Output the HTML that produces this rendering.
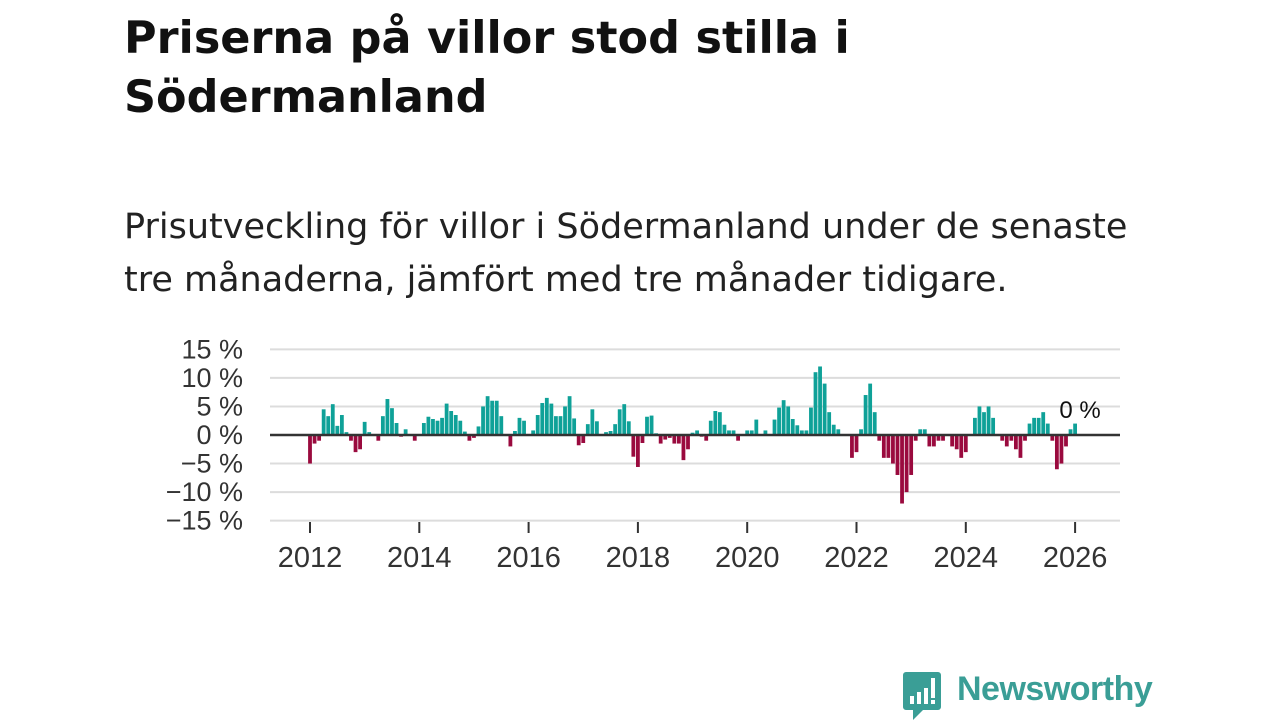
<!DOCTYPE html>
<html><head><meta charset="utf-8"><style>
body{margin:0;background:#fff;width:1280px;height:720px;overflow:hidden;font-family:"Liberation Sans",sans-serif;color:#1a1a1a}
h1{position:absolute;left:124px;top:9px;margin:0;font-family:"DejaVu Sans",sans-serif;font-size:44.5px;line-height:59px;font-weight:bold;color:#111;white-space:nowrap}
.sub{position:absolute;left:124px;top:201px;margin:0;font-family:"DejaVu Sans",sans-serif;font-size:35px;line-height:53px;color:#222;white-space:nowrap}
svg{position:absolute;left:0;top:0}
</style></head><body>
<h1>Priserna på villor stod stilla i<br>Södermanland</h1>
<p class="sub">Prisutveckling för villor i Södermanland under de senaste<br>tre månaderna, jämfört med tre månader tidigare.</p>
<svg id="chart" width="1280" height="720"></svg>
<div style="position:absolute;left:903px;top:672px;width:40px;height:48px">
<svg width="40" height="48"><path d="M3 0h32a3 3 0 0 1 3 3v32a3 3 0 0 1-3 3H20l-10 10v-10H3a3 3 0 0 1-3-3V3a3 3 0 0 1 3-3z" fill="#3a9e96"/><rect x="7" y="24" width="4" height="8" fill="#fff"/><rect x="14" y="20" width="4" height="12" fill="#fff"/><rect x="21" y="16" width="4" height="16" fill="#fff"/><rect x="28" y="6" width="4" height="20" fill="#fff"/><rect x="28" y="28" width="4" height="4" fill="#fff"/></svg></div>
<div style="position:absolute;left:957px;top:670px;font-size:34px;font-weight:bold;color:#3a9e96;letter-spacing:-0.5px">Newsworthy</div>
<script>
const startYear = 2012;
const values = [
-5,-1.5,-1,4.5,3.3,5.4,1.6,3.5,0.5,-1,-3,-2.5,
2.3,0.5,0,-1,3.3,6.3,4.7,2.1,-0.3,1,0,-1,
0,2.1,3.2,2.8,2.5,3,5.5,4.2,3.5,2.5,0.6,-1,
-0.5,1.5,5,6.8,6,6,3.3,0,-2,0.7,3,2.5,
0,0.8,3.5,5.6,6.5,5.5,3.3,3.3,5,6.8,2.9,-1.8,
-1.4,1.9,4.5,2.4,0,0.5,0.7,1.9,4.5,5.4,2.4,-3.8,
-5.6,-1.4,3.2,3.4,0.3,-1.5,-0.8,-0.5,-1.5,-1.5,-4.4,-2.5,
0.4,0.8,-0.3,-1,2.5,4.2,4,1.8,0.8,0.8,-1,0,
0.8,0.8,2.7,0,0.8,0,2.7,4.8,6.1,5,2.8,1.7,
0.8,0.8,4.8,11,12,9,4,1.8,1,0,0,-4,
-3,1,7,9,4,-1,-4,-4,-5,-7,-12,-10,
-7,-1,1,1,-2,-2,-1,-1,0,-2,-2.5,-4,
-3,0,3,5,4,5,3,0,-1,-2,-1,-2.5,
-4,-1,2,3,3,4,2,-1,-6,-5,-2,1,
2];
const yTicks = [15,10,5,0,-5,-10,-15];
const yTickLabels = ["15 %","10 %","5 %","0 %","\u22125 %","\u221210 %","\u221215 %"];
const xTickYears = [2012,2014,2016,2018,2020,2022,2024,2026];
const lastLabel = "0 %";
const NS="http://www.w3.org/2000/svg";
const svg=document.getElementById('chart');
const x0=310, monthW=54.65/12, left=270, right=1120;
const y=v=>435-v*5.71;
const xm=i=>x0+i*monthW;
function mk(t,a){const e=document.createElementNS(NS,t);for(const k in a)e.setAttribute(k,a[k]);svg.appendChild(e);return e;}
yTicks.forEach((t,i)=>{
  if(t!==0){const g=mk('line',{x1:left,x2:right,y1:y(t),y2:y(t),stroke:'#dcdcdc','stroke-width':2});
  
  }
  const l=mk('text',{x:243,y:y(t)+9,'text-anchor':'end','font-size':27,fill:'#333','font-family':'Liberation Sans, sans-serif'});
  
  
  l.textContent=yTickLabels[i];
});
values.forEach((v,i)=>{
  const b=mk('rect',{x:xm(i)-1.9,width:3.8,y:Math.min(y(v),y(0)),height:Math.abs(y(v)-y(0)),fill:v>=0?'#0fa198':'#9a0a3e'});
  
  
});
const z=mk('line',{x1:left,x2:right,y1:y(0),y2:y(0),stroke:'#333','stroke-width':2.5});


xTickYears.forEach(yr=>{
  const xx=xm((yr-startYear)*12);
  const t=mk('line',{x1:xx,x2:xx,y1:522,y2:533,stroke:'#333','stroke-width':2});
  
  
  const l=mk('text',{x:xx,y:567,'text-anchor':'middle','font-size':29,fill:'#333','font-family':'Liberation Sans, sans-serif'});
  
  
  l.textContent=yr;
});
const ll=mk('text',{x:xm(values.length-1)+5,y:418,'text-anchor':'middle','font-size':24,fill:'#111','font-family':'Liberation Sans, sans-serif'});


ll.textContent=lastLabel;
</script>
</body></html>
